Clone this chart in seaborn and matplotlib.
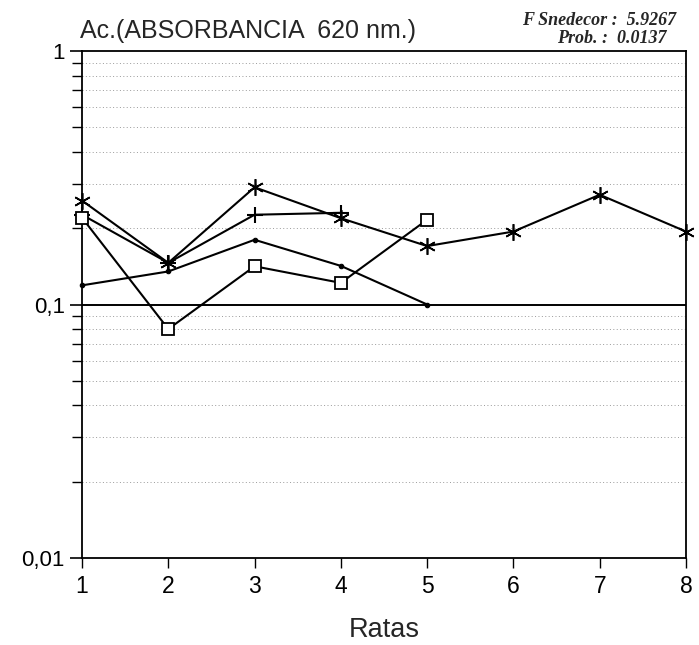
import numpy as np
import pandas as pd
import matplotlib
matplotlib.use("Agg")
import matplotlib.pyplot as plt
import matplotlib.ticker as mticker
import seaborn as sns

# ---- data ----
ratas = [1, 2, 3, 4, 5, 6, 7, 8]
serie_asterisco = [0.257, 0.146, 0.290, 0.219, 0.170, 0.194, 0.271, 0.194]
serie_cruz = [0.226, 0.146, 0.226, 0.230]
serie_cuadro = [0.220, 0.080, 0.1415, 0.1217, 0.216]
serie_punto = [0.119, 0.135, 0.180, 0.142, 0.100]

y_ticks = [0.01, 0.1, 1]
y_ticklabels = ["0,01", "0,1", "1"]
titulo = "Ac.(ABSORBANCIA  620 nm.)"
texto_f = "F Snedecor :  5.9267"
texto_p = "Prob. :  0.0137"
x_label = "Ratas"

sns.set_style("ticks")
plt.rcParams["font.family"] = ["Liberation Sans", "DejaVu Sans"]

W, H = 699, 645
fig = plt.figure(figsize=(W / 100, H / 100), dpi=100)
ax = fig.add_axes([82 / W, 1 - 558 / H, (686 - 82) / W, (558 - 51) / H])

def df_of(vals):
    return pd.DataFrame({"Rata": ratas[:len(vals)], "valor": vals})

common = dict(color="black", linewidth=1.5, ax=ax, markeredgecolor="black", clip_on=False)

sns.lineplot(data=df_of(serie_punto), x="Rata", y="valor", marker="o", markersize=3.2,
             markerfacecolor="black", markeredgewidth=0.8, zorder=3, **common)
sns.lineplot(data=df_of(serie_cruz), x="Rata", y="valor", marker="+", markersize=11,
             markeredgewidth=1.5, zorder=3, **common)
sns.lineplot(data=df_of(serie_asterisco), x="Rata", y="valor", marker=(6, 2, 0), markersize=12,
             markeredgewidth=1.2, zorder=4, **common)
sns.lineplot(data=df_of(serie_cuadro), x="Rata", y="valor", marker="s", markersize=8,
             markerfacecolor="white", markeredgewidth=1.3, zorder=5, **common)

ax.set_yscale("log")
ax.set_ylim(0.01, 1)
ax.set_xlim(1, 8)
ax.set_xticks(ratas)
ax.set_xticklabels([str(r) for r in ratas])
ax.set_yticks(y_ticks)
ax.set_yticklabels(y_ticklabels)
ax.yaxis.set_minor_locator(mticker.LogLocator(base=10, subs=np.arange(2, 10)))
ax.yaxis.set_minor_formatter(mticker.NullFormatter())

# grid: dotted lines at minor ticks, solid line at 0.1
ax.grid(False)
ax.yaxis.grid(True, which="minor", linestyle=(0, (1, 2.5)), color="#9a9a9a", linewidth=0.7)
ax.axhline(0.1, color="black", linewidth=1.4, zorder=2)

for s in ax.spines.values():
    s.set_color("black")
    s.set_linewidth(1.3)

ax.tick_params(axis="y", which="major", direction="out", length=8.5, width=1.2,
               labelsize=16, pad=4, colors="black")
ax.tick_params(axis="y", which="minor", direction="out", length=7, width=1.0, colors="black")
ax.tick_params(axis="x", which="major", direction="out", length=7, width=1.0,
               labelsize=16.5, pad=5, colors="black")

ax.set_xlabel(x_label, fontsize=19.5, labelpad=14)
ax.set_ylabel("")

fig.text(80 / W, 1 - 38 / H, titulo, fontsize=18, ha="left", va="baseline")
fig.text(676 / W, 1 - 25 / H, texto_f, fontsize=13, ha="right", va="baseline",
         family=["Liberation Serif", "DejaVu Serif"], style="italic", weight="bold")
fig.text(667 / W, 1 - 43 / H, texto_p, fontsize=13, ha="right", va="baseline",
         family=["Liberation Serif", "DejaVu Serif"], style="italic", weight="bold")

fig.savefig("out.png", dpi=100, facecolor="white")
